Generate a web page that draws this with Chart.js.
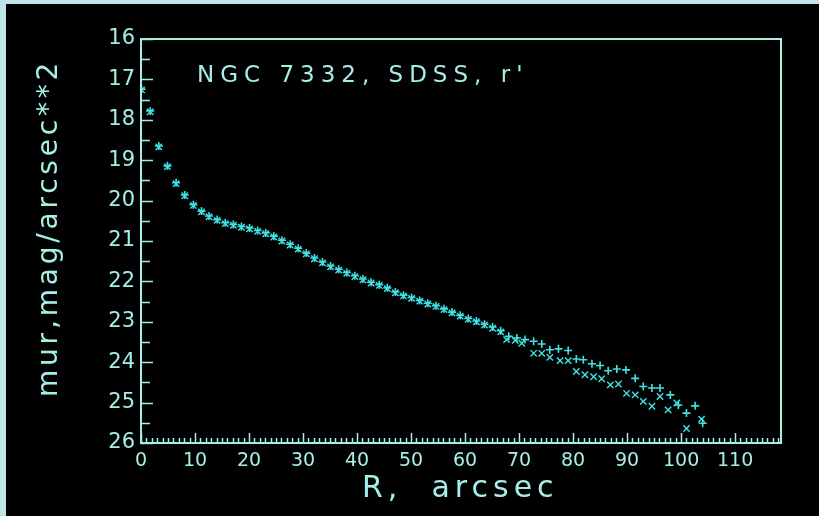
<!DOCTYPE html>
<html>
<head>
<meta charset="utf-8">
<script src="https://cdn.jsdelivr.net/npm/chart.js@4.4.0/dist/chart.umd.min.js"></script>
<style>
  html, body { margin: 0; padding: 0; background: #c0e4e8; }
  #wrap { position: absolute; left: 6px; top: 4px; width: 813px; height: 512px; background: #000; }
</style>
</head>
<body>
<div id="wrap"><canvas id="profile" width="813" height="512"></canvas></div>
<script>
// Surface brightness profile
const rPlus = [0.1, 1.7, 3.3, 4.9, 6.5, 8.1, 9.7, 11.2, 12.6, 14.1, 15.6, 17.1, 18.6, 20.1, 21.6,
  23.1, 24.6, 26.1, 27.6, 29.1, 30.6, 32.1, 33.6, 35.1, 36.6, 38.1, 39.6, 41.1, 42.6, 44.1,
  45.6, 47.1, 48.6, 50.1, 51.6, 53.1, 54.6, 56.1, 57.6, 59.1, 60.6, 62.1, 63.6, 65.1, 66.6,
  68.1, 69.6, 71.1, 72.7, 74.2, 75.7, 77.3, 79.1, 80.6, 81.9, 83.5, 85.0, 86.5, 88.1, 89.8,
  91.5, 93.0, 94.6, 96.1, 98.0, 99.5, 101.0, 102.6, 104.0];
const muPlus = [17.24, 17.78, 18.65, 19.14, 19.56, 19.86, 20.10, 20.26, 20.38, 20.47, 20.55, 20.59, 20.64, 20.68, 20.74,
  20.80, 20.88, 20.98, 21.08, 21.18, 21.30, 21.42, 21.52, 21.62, 21.70, 21.78, 21.86, 21.94, 22.02, 22.08,
  22.16, 22.26, 22.34, 22.40, 22.47, 22.54, 22.60, 22.68, 22.76, 22.84, 22.92, 22.98, 23.06, 23.13, 23.22,
  23.36, 23.40, 23.44, 23.48, 23.55, 23.69, 23.67, 23.71, 23.92, 23.94, 24.04, 24.08, 24.21, 24.17, 24.19,
  24.40, 24.60, 24.64, 24.64, 24.81, 25.06, 25.26, 25.08, 25.51];

const rCross = [0.1, 1.7, 3.3, 4.9, 6.5, 8.1, 9.7, 11.2, 12.6, 14.1, 15.6, 17.1, 18.6, 20.1, 21.6,
  23.1, 24.6, 26.1, 27.6, 29.1, 30.6, 32.1, 33.6, 35.1, 36.6, 38.1, 39.6, 41.1, 42.6, 44.1,
  45.6, 47.1, 48.6, 50.1, 51.6, 53.1, 54.6, 56.1, 57.6, 59.1, 60.6, 62.1, 63.6, 65.1, 66.6,
  67.7, 69.3, 70.5, 72.7, 74.2, 75.7, 77.6, 79.1, 80.6, 82.2, 83.8, 85.3, 86.9, 88.4, 89.9,
  91.5, 93.0, 94.6, 96.1, 97.6, 99.2, 101.0, 103.8];
const muCross = [17.26, 17.80, 18.67, 19.16, 19.58, 19.88, 20.12, 20.28, 20.40, 20.49, 20.57, 20.61, 20.66, 20.70, 20.76,
  20.82, 20.90, 21.00, 21.10, 21.20, 21.32, 21.44, 21.54, 21.64, 21.72, 21.80, 21.88, 21.96, 22.04, 22.10,
  22.18, 22.28, 22.36, 22.42, 22.49, 22.56, 22.62, 22.70, 22.78, 22.86, 22.94, 23.00, 23.08, 23.16, 23.25,
  23.44, 23.46, 23.53, 23.78, 23.78, 23.88, 23.96, 23.96, 24.23, 24.31, 24.36, 24.41, 24.56, 24.54, 24.77,
  24.81, 24.97, 25.09, 24.85, 25.18, 25.01, 25.64, 25.41];

const xRange = [0, 118.5];
const yRange = [16, 26];
const xTickLabels = [0, 10, 20, 30, 40, 50, 60, 70, 80, 90, 100, 110];

const titleText = "NGC 7332, SDSS, r'";
const xTitle = "R,  arcsec";
const yTitle = "mur,mag/arcsec**2";

const TEXT = '#a6eee8';
const MARK = '#3fe3e6';
const FONT = "'DejaVu Sans', sans-serif";

// frame, inner tick marks and the texts
const framePlugin = {
    id: 'frame',
    afterDraw(chart) {
        const ctx = chart.ctx;
        const a = chart.chartArea;
        const xs = chart.scales.x, ys = chart.scales.y;
        ctx.save();
        ctx.strokeStyle = TEXT;
        ctx.lineWidth = 2;
        ctx.strokeRect(a.left, a.top, a.right - a.left, a.bottom - a.top);

        ctx.lineWidth = 1.5;
        ctx.beginPath();
        for (let v = yRange[0]; v <= yRange[1]; v += 0.5) {
            const y = Math.round(ys.getPixelForValue(v)) + 0.5;
            const len = Number.isInteger(v) ? 12 : 9;
            ctx.moveTo(a.left, y);
            ctx.lineTo(a.left + len, y);
        }
        for (let v = 0; v <= 118; v++) {
            const x = Math.round(xs.getPixelForValue(v)) + 0.5;
            const len = v % 10 === 0 ? 10 : 5;
            ctx.moveTo(x, a.bottom);
            ctx.lineTo(x, a.bottom - len);
        }
        ctx.stroke();

        ctx.fillStyle = TEXT;
        ctx.textBaseline = 'alphabetic';
        ctx.textAlign = 'left';
        ctx.font = '23px ' + FONT;
        ctx.letterSpacing = '6px';
        ctx.fillText(titleText, 191, 78);

        ctx.font = '30px ' + FONT;
        ctx.letterSpacing = '5px';
        ctx.fillText(xTitle, 356, 493);

        ctx.translate(51, 393);
        ctx.rotate(-Math.PI / 2);
        ctx.font = '28px ' + FONT;
        ctx.letterSpacing = '3.8px';
        ctx.fillText(yTitle, 0, 0);
        ctx.restore();
    }
};

new Chart(document.getElementById('profile'), {
    type: 'scatter',
    data: {
        datasets: [{
            label: 'plus',
            data: rPlus.map((r, i) => ({ x: r, y: muPlus[i] })),
            pointStyle: 'cross',
            pointRadius: 4,
            borderColor: MARK,
            backgroundColor: MARK,
            pointBorderWidth: 1.6
        }, {
            label: 'cross',
            data: rCross.map((r, i) => ({ x: r, y: muCross[i] })),
            pointStyle: 'crossRot',
            pointRadius: 4.5,
            borderColor: MARK,
            backgroundColor: MARK,
            pointBorderWidth: 1.4
        }]
    },
    options: {
        responsive: false,
        animation: false,
        events: [],
        layout: { padding: { left: 0, top: 35, right: 38, bottom: 0 } },
        plugins: { legend: { display: false }, tooltip: { enabled: false } },
        scales: {
            x: {
                type: 'linear',
                min: xRange[0],
                max: xRange[1],
                grid: { display: false, drawTicks: false },
                border: { display: false },
                ticks: {
                    stepSize: 10,
                    includeBounds: false,
                    maxRotation: 0,
                    padding: 7,
                    color: TEXT,
                    font: { family: FONT, size: 19 },
                    callback: v => xTickLabels.includes(v) ? String(v) : ''
                },
                afterFit(scale) { scale.height = 73; }
            },
            y: {
                type: 'linear',
                reverse: true,
                min: yRange[0],
                max: yRange[1],
                grid: { display: false, drawTicks: false },
                border: { display: false },
                ticks: {
                    stepSize: 1,
                    padding: 6,
                    color: TEXT,
                    font: { family: FONT, size: 21 }
                },
                afterFit(scale) { scale.width = 135; }
            }
        }
    },
    plugins: [framePlugin]
});
</script>
</body>
</html>
